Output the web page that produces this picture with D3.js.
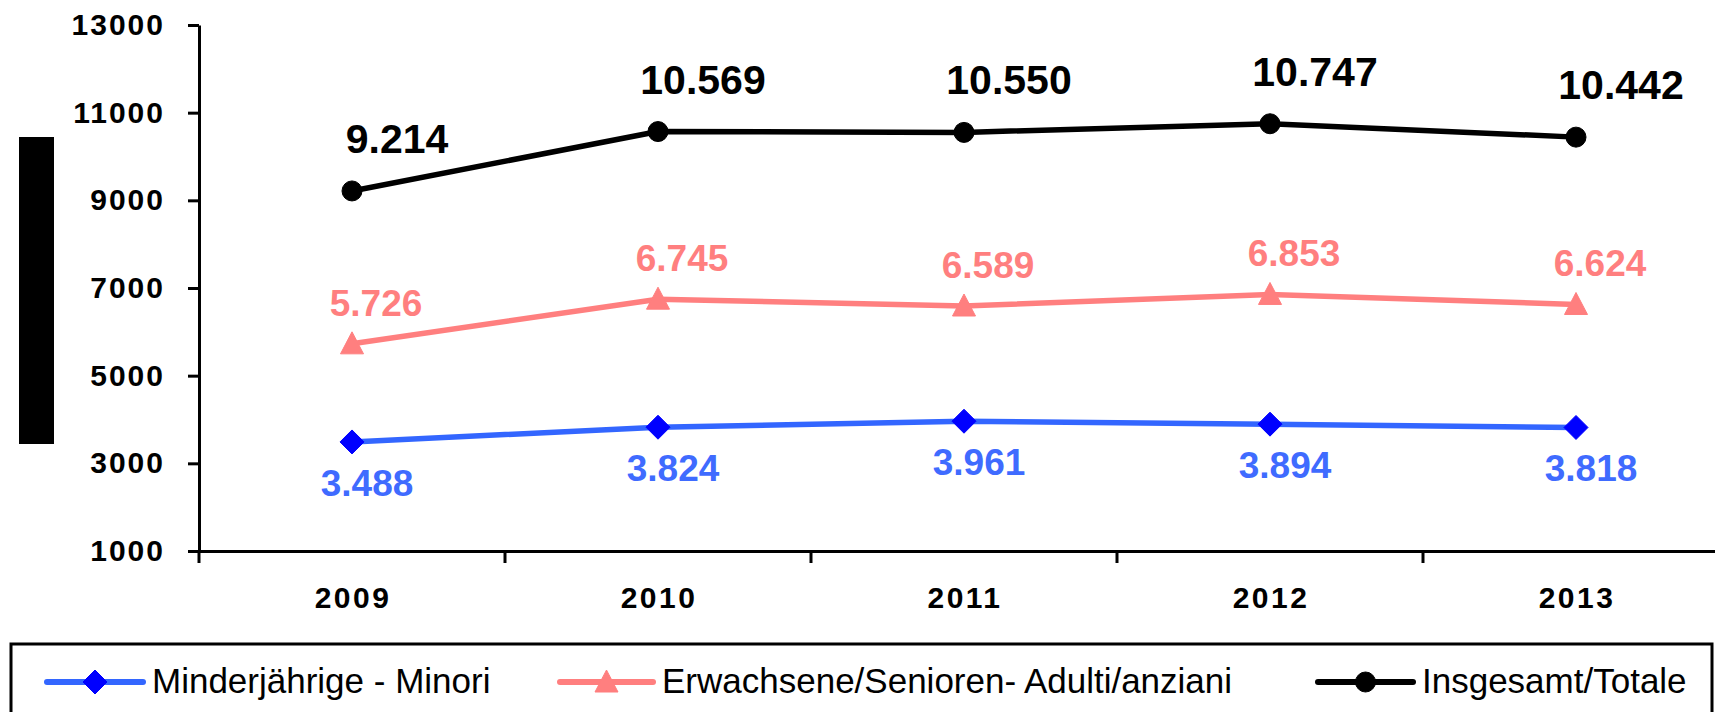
<!DOCTYPE html>
<html>
<head>
<meta charset="utf-8">
<script src="https://cdn.jsdelivr.net/npm/d3@7"></script>
<style>
  body { margin: 0; background: #fff; }
  svg { display: block; font-family: "Liberation Sans", Arial, sans-serif; }
</style>
</head>
<body>
<script>
var svgWidth = 1715;
var svgHeight = 712;

// data
var years = ["2009", "2010", "2011", "2012", "2013"];
var minori = [3488, 3824, 3961, 3894, 3818];
var adulti = [5726, 6745, 6589, 6853, 6624];
var totale = [9214, 10569, 10550, 10747, 10442];
var yTicks = [1000, 3000, 5000, 7000, 9000, 11000, 13000];
var legendNames = ["Minderjährige - Minori", "Erwachsene/Senioren- Adulti/anziani", "Insgesamt/Totale"];

var margin = { top: 25, left: 199 };
var band = 306;
var height = 526;

var svg = d3.select("body")
  .append("svg")
  .attr("width", svgWidth)
  .attr("height", svgHeight);

var x = d3.scaleBand()
  .domain(years)
  .range([margin.left, margin.left + band * years.length]);

var y = d3.scaleLinear()
  .domain([1000, 13000])
  .range([margin.top + height, margin.top]);

var fmt = d3.formatLocale({ decimal: ",", thousands: ".", grouping: [3], currency: ["", ""] }).format(",");

// the black block on the left
svg.append("rect")
  .attr("x", 19).attr("y", 137)
  .attr("width", 35).attr("height", 307)
  .attr("fill", "#000");

// y axis
var yAxis = svg.append("g")
  .attr("transform", `translate(${margin.left},0)`)
  .call(d3.axisLeft(y).tickValues(yTicks).tickFormat(d3.format("d"))
    .tickSize(11).tickSizeOuter(0).tickPadding(23));
yAxis.select(".domain").attr("stroke-width", 3);
yAxis.selectAll(".tick line").attr("stroke-width", 3);
yAxis.selectAll("text")
  .style("font-size", "30px")
  .style("font-weight", "bold")
  .style("letter-spacing", "2px")
  .attr("fill", "#000");

// extension of the y axis below the x axis
svg.append("line")
  .attr("x1", margin.left).attr("x2", margin.left)
  .attr("y1", y(1000)).attr("y2", y(1000) + 12)
  .attr("stroke", "#000").attr("stroke-width", 3);

// x axis
var xAxis = svg.append("g")
  .attr("transform", `translate(0,${y(1000)})`)
  .call(d3.axisBottom(x).tickSize(0).tickSizeOuter(0).tickPadding(36));
xAxis.select(".domain").attr("stroke-width", 3);
xAxis.selectAll("text")
  .attr("dx", 1)
  .style("font-size", "30px")
  .style("font-weight", "bold")
  .style("letter-spacing", "2.5px")
  .attr("fill", "#000");

// tick marks between categories
xAxis.selectAll(".sep")
  .data(years.slice(1))
  .enter()
  .append("line")
  .attr("x1", d => x(d)).attr("x2", d => x(d))
  .attr("y1", 0).attr("y2", 12)
  .attr("stroke", "#000").attr("stroke-width", 3);

var series = [
  { name: legendNames[0], values: minori, line: "#3366ff", marker: "#0000ff", label: "#3f6bff", shape: d3.symbolDiamond, size: 24, dx: 15, dy: 54, font: 37 },
  { name: legendNames[1], values: adulti, line: "#ff7f7f", marker: "#ff7f7f", label: "#ff7f7f", shape: d3.symbolTriangle, size: 23, dx: 24, dy: -28, font: 37 },
  { name: legendNames[2], values: totale, line: "#000000", marker: "#000000", label: "#000000", shape: d3.symbolCircle, size: 20, dx: 45, dy: -38, font: 41 }
];

function markerPath(s) {
  if (s.shape === d3.symbolDiamond) {
    var h = s.size / 2;
    return `M0,${-h}L${h},0L0,${h}L${-h},0Z`;
  }
  if (s.shape === d3.symbolTriangle) {
    var w = s.size / 2;
    return `M0,-12L${w},10L${-w},10Z`;
  }
  return d3.symbol().type(d3.symbolCircle).size(Math.PI * (s.size / 2) * (s.size / 2))();
}

var line = d3.line()
  .x((d, i) => x(years[i]) + x.bandwidth() / 2)
  .y(d => y(d));

series.forEach(function(s) {
  var g = svg.append("g");
  g.append("path")
    .datum(s.values)
    .attr("fill", "none")
    .attr("stroke", s.line)
    .attr("stroke-width", 5.5)
    .attr("stroke-linejoin", "round")
    .attr("d", line);

  g.selectAll(".marker")
    .data(s.values)
    .enter()
    .append("path")
    .attr("transform", (d, i) => `translate(${x(years[i]) + x.bandwidth() / 2},${y(d)})`)
    .attr("d", markerPath(s))
    .attr("fill", s.marker)
    .attr("stroke", s.marker)
    .attr("stroke-width", 1)
    .attr("stroke-linejoin", "round");

  g.selectAll(".lbl")
    .data(s.values)
    .enter()
    .append("text")
    .attr("x", (d, i) => x(years[i]) + x.bandwidth() / 2 + s.dx)
    .attr("y", d => y(d) + s.dy)
    .attr("text-anchor", "middle")
    .attr("fill", s.label)
    .style("font-size", s.font + "px")
    .style("font-weight", "bold")
    .text(d => fmt(d));
});

// legend
svg.append("rect")
  .attr("x", 11).attr("y", 644)
  .attr("width", 1701).attr("height", 90)
  .attr("fill", "none")
  .attr("stroke", "#000")
  .attr("stroke-width", 3);

var legendX = [47, 560, 1318];
var legendW = [96, 93, 95];

series.forEach(function(s, i) {
  var lg = svg.append("g");
  lg.append("line")
    .attr("x1", legendX[i]).attr("x2", legendX[i] + legendW[i])
    .attr("y1", 682).attr("y2", 682)
    .attr("stroke", s.line)
    .attr("stroke-width", 6)
    .attr("stroke-linecap", "round");
  lg.append("path")
    .attr("transform", `translate(${legendX[i] + legendW[i] / 2},682)`)
    .attr("d", markerPath(s))
    .attr("fill", s.marker)
    .attr("stroke", s.marker)
    .attr("stroke-width", 1);
  lg.append("text")
    .attr("x", legendX[i] + legendW[i] + 9)
    .attr("y", 693)
    .style("font-size", "35px")
    .attr("fill", "#000")
    .text(s.name);
});
</script>
</body>
</html>
